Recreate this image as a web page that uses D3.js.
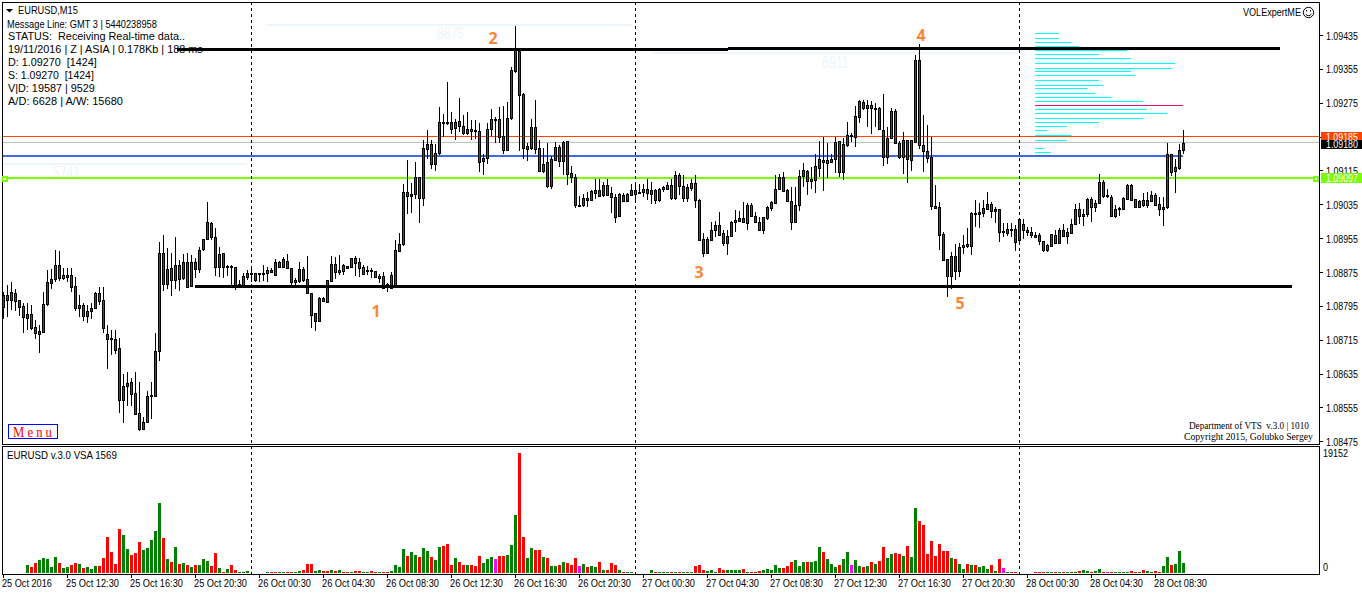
<!DOCTYPE html>
<html><head><meta charset="utf-8"><title>EURUSD,M15</title>
<style>html,body{margin:0;padding:0;background:#fff;overflow:hidden}svg{display:block}</style>
<script src="https://cdnjs.cloudflare.com/ajax/libs/d3/7.8.5/d3.min.js"></script></head>
<body><svg id="c" width="1362" height="595"></svg>
<script>
// Prices are in points: 1.09435 -> 9435 (value - 1.00000, times 1e5)
const open=[8793,8821,8809,8825,8809,8795,8767,8776,8744,8729,
8734,8799,8850,8858,8891,8862,8864,8867,8843,8791,
8797,8772,8782,8791,8825,8808,8728,8716,8716,8695,
8572,8606,8614,8588,8543,8504,8520,8583,8583,8689,
8921,8847,8884,8856,8891,8860,8898,8842,8899,8882,
8929,8953,8991,8958,8887,8920,8889,8889,8886,8843,
8843,8864,8870,8856,8871,8870,8873,8875,8869,8899,
8888,8901,8884,8852,8854,8881,8858,8826,8777,8760,
8813,8805,8854,8894,8879,8878,8890,8886,8907,8898,
8887,8879,8879,8877,8866,8865,8846,8838,8843,8925,
8941,9065,9054,9059,9100,9050,9166,9177,9130,9156,
9227,9229,9229,9215,9231,9221,9203,9212,9210,9208,
9137,9145,9213,9234,9236,9196,9163,9238,9350,9398,
9296,9166,9168,9217,9167,9114,9134,9078,9139,9170,
9138,9184,9108,9100,9033,9034,9049,9045,9062,9068,
9057,9080,9061,9053,9008,9057,9043,9057,9068,9061,
9065,9072,9059,9068,9045,9072,9072,9080,9050,9104,
9079,9051,9074,9086,9046,8952,8920,8950,8975,8987,
8966,8944,8961,8992,8995,9003,8991,9033,9008,8993,
8975,9002,9027,9039,9072,9100,9068,9043,8994,9033,
9102,9113,9095,9092,9121,9139,9139,9135,9141,9184,
9112,9176,9198,9195,9242,9276,9262,9270,9263,9262,
9210,9146,9192,9255,9181,9147,9186,9140,9183,9375,
9176,9162,9146,9032,9028,8965,8905,8866,8912,8878,
8935,8936,8937,9013,9013,9015,9024,9035,9024,9024,
8971,8967,8974,8976,8950,8988,8974,8963,8963,8962,
8948,8927,8936,8962,8944,8975,8960,8968,8988,9025,
9013,9012,9047,9029,9039,9088,9056,9053,9008,9023,
9025,9047,9080,9047,9029,9045,9033,9043,9057,9035,
9023,9028,9154,9114,9121,9163];
const close=[8821,8810,8827,8807,8793,8768,8776,8743,8730,8735,
8799,8851,8858,8891,8862,8867,8868,8840,8791,8796,
8771,8782,8791,8825,8807,8743,8717,8718,8691,8572,
8605,8612,8587,8539,8505,8520,8582,8584,8688,8919,
8847,8882,8856,8891,8858,8898,8840,8899,8882,8928,
8952,8993,8958,8887,8917,8888,8886,8888,8843,8846,
8865,8872,8872,8872,8872,8873,8880,8880,8899,8888,
8906,8884,8852,8856,8881,8856,8825,8774,8760,8813,
8807,8856,8895,8876,8876,8891,8885,8907,8897,8885,
8871,8877,8877,8863,8861,8838,8844,8868,8926,8942,
9063,9054,9060,9100,9050,9167,9177,9130,9157,9229,
9230,9226,9213,9230,9219,9204,9212,9209,9209,9135,
9145,9214,9236,9236,9194,9164,9238,9352,9399,9294,
9168,9173,9217,9166,9114,9131,9078,9143,9170,9137,
9182,9106,9100,9034,9032,9049,9044,9066,9068,9055,
9080,9057,9052,9005,9059,9043,9059,9068,9059,9065,
9072,9061,9068,9045,9072,9075,9080,9049,9104,9078,
9051,9077,9086,9046,8950,8919,8952,8975,8987,8963,
8944,8961,8994,8998,9002,8994,9034,9008,8992,8975,
9004,9028,9040,9072,9100,9066,9043,8994,9033,9103,
9116,9090,9091,9125,9142,9135,9133,9142,9182,9112,
9177,9198,9199,9243,9279,9262,9270,9262,9262,9212,
9147,9192,9255,9180,9147,9186,9141,9186,9377,9176,
9161,9145,9032,9027,8963,8904,8866,8912,8878,8933,
8939,8941,9014,9015,9016,9026,9035,9020,9020,8970,
8969,8976,8976,8946,9000,8974,8969,8969,8958,8949,
8927,8938,8964,8944,8975,8960,8969,8988,9025,9008,
9007,9047,9029,9037,9088,9054,9054,9008,9024,9027,
9049,9080,9045,9029,9043,9033,9045,9057,9033,9023,
9028,9155,9112,9122,9163,9180];
const high=[8828,8844,8852,8836,8810,8801,8801,8797,8761,8750,
8828,8880,8881,8928,8925,8884,8884,8884,8864,8821,
8801,8797,8801,8828,8840,8840,8750,8738,8738,8718,
8633,8639,8624,8638,8614,8533,8594,8616,8732,8947,
8962,8931,8919,8958,8903,8918,8919,8915,8907,8933,
8953,9040,8993,8979,8934,8921,8892,8892,8888,8856,
8872,8880,8881,8873,8873,8892,8886,8884,8905,8902,
8910,8917,8884,8860,8899,8886,8913,8826,8777,8817,
8817,8856,8913,8911,8915,8895,8890,8909,8913,8907,
8891,8890,8885,8877,8871,8876,8850,8874,8950,8966,
9084,9139,9086,9135,9100,9186,9210,9186,9177,9264,
9249,9323,9254,9236,9285,9245,9254,9234,9234,9228,
9155,9228,9260,9241,9264,9267,9277,9360,9456,9401,
9297,9179,9236,9281,9188,9167,9179,9149,9182,9175,
9184,9185,9125,9106,9054,9059,9065,9068,9095,9094,
9088,9095,9076,9059,9062,9061,9062,9084,9080,9084,
9084,9094,9088,9072,9074,9079,9088,9094,9114,9108,
9104,9084,9094,9104,9047,8968,8958,8993,8995,9016,
8975,8975,8995,9021,9019,9041,9037,9039,9016,9005,
9005,9031,9043,9104,9106,9112,9070,9076,9076,9116,
9132,9116,9124,9154,9185,9195,9180,9155,9193,9185,
9191,9229,9203,9267,9281,9281,9281,9279,9275,9264,
9295,9218,9262,9259,9184,9206,9188,9188,9388,9414,
9246,9222,9193,9080,9041,8969,8906,8922,8941,8944,
8962,8978,9017,9045,9037,9046,9064,9041,9029,9025,
8990,8990,8990,8986,9002,9000,8981,8981,8969,8968,
8948,8940,8964,8974,8978,8988,8978,9001,9035,9039,
9023,9049,9053,9045,9106,9092,9072,9057,9033,9028,
9053,9082,9082,9047,9045,9062,9065,9067,9061,9053,
9053,9179,9155,9143,9177,9210];
const low=[8765,8768,8785,8783,8771,8730,8738,8739,8717,8683,
8730,8795,8834,8852,8854,8856,8852,8827,8783,8769,
8759,8755,8765,8789,8797,8730,8647,8679,8681,8541,
8519,8559,8559,8537,8499,8502,8519,8527,8582,8665,
8831,8834,8818,8834,8831,8856,8839,8840,8862,8873,
8925,8951,8951,8865,8863,8861,8866,8844,8832,8840,
8840,8856,8852,8852,8852,8854,8851,8872,8868,8884,
8884,8881,8844,8844,8850,8852,8824,8742,8736,8756,
8803,8803,8852,8858,8868,8868,8884,8884,8866,8864,
8869,8868,8861,8861,8850,8836,8828,8836,8842,8925,
8936,9011,9015,9048,8991,9030,9141,9119,9114,9151,
9193,9222,9201,9186,9206,9198,9198,9186,9190,9111,
9104,9130,9197,9180,9180,9153,9163,9235,9345,9160,
9142,9137,9164,9155,9111,9110,9074,9071,9137,9124,
9104,9080,9086,9027,9029,9029,9029,9043,9048,9053,
9053,9054,9015,8991,9005,9041,9041,9054,9039,9059,
9053,9045,9035,9035,9041,9065,9070,9045,9046,9057,
9041,9041,9067,9027,8949,8911,8917,8950,8958,8960,
8936,8915,8958,8970,8993,8991,8975,9005,8991,8974,
8965,8999,9019,9037,9070,9065,9041,8974,8992,9020,
9076,9058,9072,9061,9100,9066,9098,9132,9110,9100,
9092,9171,9183,9171,9226,9258,9217,9200,9217,9210,
9126,9130,9191,9177,9141,9106,9086,9114,9181,9165,
9112,9132,9021,9024,8927,8903,8816,8834,8856,8864,
8917,8932,8916,8982,8978,9006,9023,9002,8990,8946,
8958,8960,8958,8925,8942,8952,8959,8955,8955,8939,
8923,8923,8935,8942,8941,8958,8941,8966,8986,8988,
8984,9005,8994,9017,9035,9051,9051,9007,9002,9007,
9023,9045,9043,9027,9027,9029,9027,9041,9031,9007,
8983,9025,9102,9062,9116,9154];
const volume=[0,0,0,0,0,0,1280,960,1600,2080,
2400,2240,960,2560,1600,800,960,1280,1600,1440,
800,960,640,1120,1120,2400,5760,3360,1440,7040,
6080,3840,2880,3200,4960,3680,4000,5280,6720,11200,
5600,2240,1760,4160,1440,1600,1280,960,1280,1280,
2240,1920,1120,3200,800,160,640,1280,480,160,
160,320,0,0,0,0,160,80,80,80,
80,160,160,80,320,480,1440,1440,320,480,
320,320,480,320,480,160,160,160,320,320,
80,80,320,80,80,160,160,320,1280,960,
3840,2720,3360,2880,2560,4000,3520,2560,2080,4160,
4320,4640,1280,2400,1760,1280,1280,1280,1120,2720,
1600,2240,2560,2240,2720,2720,2880,4480,9280,19152,
5760,2400,4000,3680,3680,2560,2400,1120,1120,1280,
1760,1600,1280,2400,1120,1440,960,1120,960,1760,
480,480,1600,1280,480,160,160,160,0,0,
0,0,480,80,80,80,80,160,80,80,
160,160,160,1120,1280,480,320,480,160,800,
480,480,480,480,480,640,160,80,80,320,
480,640,480,1280,800,800,1120,1760,2080,1120,
1760,1760,1760,1920,4160,3360,2240,1440,960,1280,
2240,3360,1280,2080,1120,960,1120,1760,1440,1920,
4160,2400,3040,3200,3040,2720,4320,2560,10400,8320,
7680,3040,5120,2720,4640,3520,3520,2400,2240,1440,
640,1440,1280,1280,960,1120,640,1280,320,2240,
800,160,80,160,0,0,0,0,160,160,
160,80,80,80,160,80,160,160,160,320,
480,320,160,320,640,160,160,160,160,80,
80,160,320,80,80,480,320,160,320,160,
1120,2560,1280,1440,3520,1600];
const volumeKind=("------grrg"+"ggggrggrrg"+"rgggrrrrrr"+"ggrrrggggg"+"rgrgrgrgrg"+"ggrrgrgrrg"+
"gg----grrg"+"grrggrrrgg"+"rrgrgrrgrr"+"ggrrgrrggg"+"grggrggrgg"+"rrrgrrgrrr"+"gggmrrgggr"+
"rggrrgrggr"+"grrrmgrggr"+"grrrgrgg--"+"--grgggrgr"+"gggrrrgggr"+"rggggrgrrr"+"gggggrrrgg"+
"grgggrgggr"+"ggmggrgrgr"+"rggrrgrggr"+"rrrrrrrgrg"+"grgrgggrgr"+"mgrr----rr"+"rggrgrgggr"+
"ggrggrmrgg"+"ggrrgrggrr"+"ggrggg").split("");
const priceTicks=[9435,9355,9275,9195,9115,9035,8955,8875,8795,8715,8635,8555,8475];
const hiddenPriceLabels=[9195];
const dateLabels=["25 Oct 2016","25 Oct 12:30","25 Oct 16:30","25 Oct 20:30",
"26 Oct 00:30","26 Oct 04:30","26 Oct 08:30","26 Oct 12:30","26 Oct 16:30","26 Oct 20:30",
"27 Oct 00:30","27 Oct 04:30","27 Oct 08:30","27 Oct 12:30","27 Oct 16:30","27 Oct 20:30",
"28 Oct 00:30","28 Oct 04:30","28 Oct 08:30"];
const dateLabelEvery=16, dayStartBars=[62,158,254];
const profileLevels=[9439,9429,9418,9408,9399,9389,9380,9369,9358,9349,9340,9328,9318,9309,9299,9288,9278,9269,9259,9250,9238,9229,9219,9210,9198,9188,9169,9158];
const profileSize=[24,24,36,44,92,64,96,140,136,96,100,64,68,52,60,76,108,148,112,132,108,64,32,12,36,32,8,16];
const profilePeak=9269;
const infoLines=["Message Line: GMT 3 | 5440238958","STATUS:  Receiving Real-time data..","19/11/2016 | Z | ASIA | 0.178Kb | 188 ms","D: 1.09270  [1424]","S: 1.09270  [1424]","V|D: 19587 | 9529","A/D: 6628 | A/W: 15680"];
const swings=[["1",93.25,8783],["2",122.5,9426],["3",174,8873],["4",229.5,9435],["5",239.25,8802]];
const paleLevels=[[9459,"8875"],[9392,"6911"],[9131,"5741"]];

const svg=d3.select("#c"), n=open.length;
const x=d3.scaleLinear().domain([0,295]).range([3,1183]);
const y=d3.scaleLinear().domain([9435,8475]).range([35,441.3]);
const yv=d3.scaleLinear().domain([0,19152]).range([573,453]);
const xp=d3.scaleLinear().domain([0,148]).range([1035,1183]);
const fmt=p=>((100000+p)/100000).toFixed(5);
const UI="'Liberation Sans',Arial,sans-serif", SERIF="'Liberation Serif',serif";
function txt(g,xx,yy,s,w,o={}){
  const t=g.append("text").attr("x",xx).attr("y",yy).attr("dy","0.35em").text(s)
   .attr("font-family",o.family||UI).attr("font-size",o.size||11).attr("fill",o.fill||"#000")
   .attr("font-weight",o.weight||"normal").style("white-space","pre");
  if(w){
    const nat=t.node().getComputedTextLength();
    t.attr("transform",`translate(${xx},0) scale(${w/nat},1) translate(${-xx},0)`);
  }
  return t;
}
function hline(g,x1,x2,yy,c,w){
  g.append("line").attr("x1",x1).attr("x2",x2).attr("y1",yy).attr("y2",yy).attr("stroke",c).attr("stroke-width",w).attr("shape-rendering","crispEdges");
}

// pale level lines with pale figures (underneath everything)
const pale=svg.append("g");
const paleX=[[267,632,437,33],[651,1019,822,62],[3,247,53,172]];
paleLevels.forEach((d,i)=>{
  const p=paleX[i];
  hline(pale,p[0],p[1],Math.round(y(d[0])),"#eef6fd",2);
  txt(pale,p[2],p[3],d[1],27,{size:16,fill:"#eef5fb"});
});

const crisp=svg.append("g").attr("shape-rendering","crispEdges");
// horizontal levels
hline(crisp,3,1319,Math.floor(y(9194))+.5,"#ff4500",1);
hline(crisp,3,1319,Math.floor(y(9180))+.5,"#c0c0c0",1);
hline(crisp,3,1183,Math.round(y(9150)),"#4169e1",2);
hline(crisp,3,1319,Math.round(y(9097)),"#7cfc00",2);

// dashed day separators
dayStartBars.forEach(b=>{
  crisp.append("line").attr("x1",x(b)+.5).attr("x2",x(b)+.5).attr("y1",2).attr("y2",574)
   .attr("stroke","#000").attr("stroke-dasharray","3,3");
});

// volume profile
crisp.append("g").selectAll("line").data(profileLevels).join("line")
 .attr("x1",xp(0)).attr("x2",(d,i)=>xp(profileSize[i])).attr("y1",d=>Math.round(y(d))+.5).attr("y2",d=>Math.round(y(d))+.5)
 .attr("stroke",d=>d===profilePeak?"#e6146e":"#00ffff");

// candles
const idx=d3.range(n);
const cg=crisp.append("g");
cg.selectAll("line").data(idx).join("line")
 .attr("x1",i=>x(i)+.5).attr("x2",i=>x(i)+.5).attr("y1",i=>Math.round(y(high[i]))).attr("y2",i=>Math.round(y(low[i])))
 .attr("stroke","#000");
cg.selectAll("rect").data(idx).join("rect")
 .attr("x",i=>x(i)-.5).attr("width",2)
 .attr("y",i=>Math.round(y(Math.max(open[i],close[i])))+.5)
 .attr("height",i=>Math.max(1,Math.round(y(Math.min(open[i],close[i])))-Math.round(y(Math.max(open[i],close[i])))))
 .attr("fill",i=>close[i]>=open[i]?"#008000":"#ff0000").attr("stroke","#000");

// volume bars
const colors={g:"#008000",r:"#ff0000",m:"#ff00ff"};
crisp.append("g").selectAll("rect").data(idx.filter(i=>volume[i]>0)).join("rect")
 .attr("x",i=>x(i)-1).attr("width",3)
 .attr("y",i=>Math.min(yv(volume[i]),572)).attr("height",i=>Math.max(1,573-yv(volume[i])))
 .attr("fill",i=>colors[volumeKind[i]]);

// frames and ticks
const fr=crisp.append("g").attr("stroke","#000").attr("fill","none");
fr.append("path").attr("d","M2.5,2.5H1319.5V444.5H2.5Z M2.5,446.5H1319.5V574.5H2.5Z");
priceTicks.forEach(p=>hline(crisp,1320,1323,Math.round(y(p))+.5,"#000",1));
dateLabels.forEach((d,i)=>{
  const tx=x(i*dateLabelEvery)+.5;
  crisp.append("line").attr("x1",tx).attr("x2",tx).attr("y1",575).attr("y2",578).attr("stroke","#000");
});

// axis labels
const t=svg.append("g");
priceTicks.filter(p=>!hiddenPriceLabels.includes(p)).forEach(p=>txt(t,1326,y(p)+.7,fmt(p),32,{size:11}));
dateLabels.forEach((d,i)=>txt(t,x(i*dateLabelEvery)-1,583,d,i===0?50:53,{size:11}));
txt(t,1323,453.5,"19152",25,{size:11});
txt(t,1323,567.5,"0",5,{size:11});

// right price tags
const tagsBg=svg.append("g").attr("shape-rendering","crispEdges");
[[132,8,"#ff4500"],[140,8.5,"#000"],[172.5,10,"#7cfc00"]].forEach(d=>{
  tagsBg.append("rect").attr("x",1321).attr("y",d[0]).attr("width",41).attr("height",d[1]).attr("fill",d[2]);
});
const tags=svg.append("g");
const clip=svg.append("clipPath").attr("id","ot");clip.append("rect").attr("x",1321).attr("y",132).attr("width",41).attr("height",8);
tags.append("g").attr("clip-path","url(#ot)").call(g=>txt(g,1326,137.5,"1.09185",32,{fill:"#fff"}));
txt(tags,1326,144.2,"1.09180",32,{fill:"#fff"});
txt(tags,1326,178,"1.09097",32,{fill:"#fff"});
// line handles
[5,1316].forEach(h=>tagsBg.append("rect").attr("x",h-2).attr("y",y(9097)-1.5).attr("width",4).attr("height",4)
  .attr("fill","#fff").attr("stroke","#7cfc00").attr("stroke-width",2));

// top-left information
const info=svg.append("g");
info.append("path").attr("d","M6,9H13L9.5,12.5Z").attr("fill","#000");
txt(info,18,10.5,"EURUSD,M15",60,{size:11});
const infoW=[150,177,195,89,86,87,115], infoY=[24,36,49,62,75,88,101];
infoLines.forEach((s,i)=>txt(info,i===0?7:8,infoY[i],s,infoW[i],{size:i===0?10.5:11}));

// thick drawn levels over the text and candles
const over=svg.append("g");
[[177,728,9401],[728,1280,9404],[195,744,8841],[744,1292,8843]].forEach(d=>hline(over,d[0],d[1],Math.round(y(d[2]))+.5,"#000",3));

// swing numbers
svg.append("g").selectAll("text").data(swings).join("text")
 .attr("x",d=>x(d[1])).attr("y",d=>y(d[2])).attr("dy","0.35em").attr("text-anchor","middle")
 .text(d=>d[0]).attr("font-family","'Open Sans',sans-serif").attr("font-weight",700).attr("font-size",16).attr("fill","#ff8433");

// menu button
svg.append("rect").attr("shape-rendering","crispEdges").attr("x",8.5).attr("y",424.5).attr("width",49).attr("height",14).attr("fill","#fff").attr("stroke","#0000ff");
txt(svg,13,432,"M e n u",39,{family:SERIF,size:14,fill:"#ff0000"});

// brand texts
txt(svg,1243,12.5,"VOLExpertME",58,{size:11});
const sm=svg.append("g").attr("stroke","#000").attr("fill","none");
sm.append("circle").attr("cx",1308.5).attr("cy",12.5).attr("r",5.2);
sm.append("path").attr("d","M1305.5,14 Q1308.5,17.5 1311.5,14");
sm.append("path").attr("d","M1306.5,10v1.5M1310.5,10v1.5");
txt(svg,1189,425.5,"Department of VTS  v.3.0 | 1010",120,{family:SERIF,size:10.5});
txt(svg,1184,436.5,"Copyright 2015, Golubko Sergey",129,{family:SERIF,size:10.5});
txt(svg,7,455.5,"EURUSD v.3.0 VSA 1569",110,{size:11});
</script></body></html>
